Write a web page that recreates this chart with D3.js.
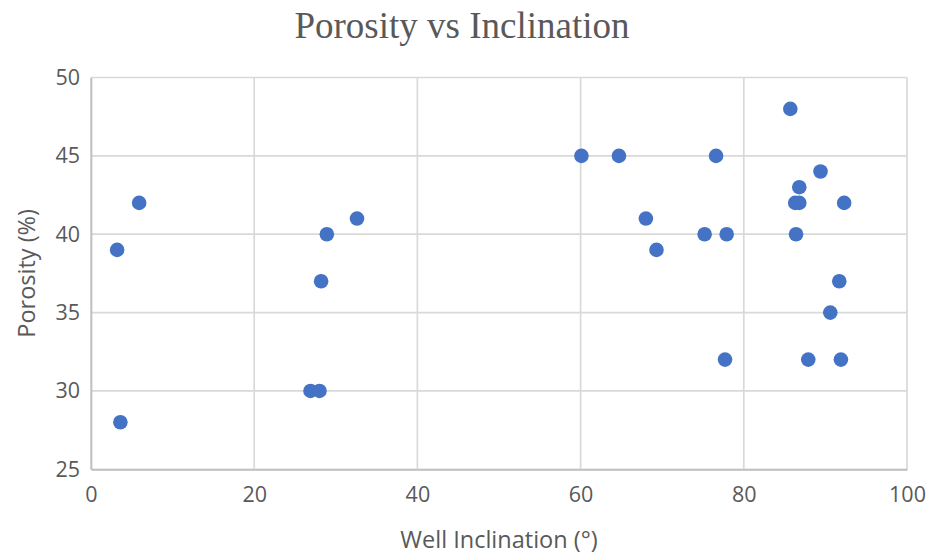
<!DOCTYPE html>
<html>
<head>
<meta charset="utf-8">
<script src="https://cdn.jsdelivr.net/npm/d3@7"></script>
<style>
  html, body { margin: 0; padding: 0; background: #fff; }
  svg { display: block; }
</style>
</head>
<body>
<svg id="chart" width="927" height="554"></svg>
<script>
// Well inclination (degrees) and porosity (%) for each sample
const inclination = [3.2, 5.9, 3.6, 26.9, 28.0, 28.2, 28.9, 32.6,
  60.1, 64.7, 76.6, 85.7, 89.4, 86.8, 86.3, 86.8, 92.3, 68.0,
  75.2, 77.9, 86.4, 69.3, 91.7, 90.6, 77.7, 87.9, 91.9];
const porosity = [39, 42, 28, 30, 30, 37, 40, 41,
  45, 45, 45, 48, 44, 43, 42, 42, 42, 41,
  40, 40, 40, 39, 37, 35, 32, 32, 32];

const xTicks = [0, 20, 40, 60, 80, 100];
const yTicks = [25, 30, 35, 40, 45, 50];

const points = inclination.map((x, i) => ({ x, y: porosity[i] }));

const svg = d3.select("#chart");
const margin = { left: 91, right: 20, top: 77.5, bottom: 84.7 };
const W = 927, H = 554;

const x = d3.scaleLinear().domain([0, 100]).range([margin.left, W - margin.right]);
const y = d3.scaleLinear().domain([25, 50]).range([H - margin.bottom, margin.top]);

const labelFont = "'Open Sans', 'Noto Sans', sans-serif";
const textColor = "#595959";
const gridColor = "#d9d9d9";

// Gridlines
svg.append("g")
  .selectAll("line.v")
  .data(xTicks)
  .join("line")
  .attr("x1", d => x(d)).attr("x2", d => x(d))
  .attr("y1", y(50)).attr("y2", y(25))
  .attr("stroke", gridColor).attr("stroke-width", 1.7);

svg.append("g")
  .selectAll("line.h")
  .data(yTicks)
  .join("line")
  .attr("x1", x(0)).attr("x2", x(100))
  .attr("y1", d => y(d)).attr("y2", d => y(d))
  .attr("stroke", gridColor).attr("stroke-width", 1.7);

// Axes (labels only, lines come from the grid)
const xAxis = svg.append("g")
  .attr("transform", `translate(0,${y(25)})`)
  .call(d3.axisBottom(x).tickValues(xTicks).tickSize(0).tickPadding(17));
const yAxis = svg.append("g")
  .attr("transform", `translate(${x(0)},0)`)
  .call(d3.axisLeft(y).tickValues(yTicks).tickSize(0).tickPadding(11));

[xAxis, yAxis].forEach(g => {
  g.select(".domain").attr("stroke", "#bfbfbf").attr("stroke-width", 1.7);
  g.selectAll("text")
    .attr("fill", textColor)
    .style("font-family", labelFont)
    .style("font-size", "21.5px");
});

// Points
svg.append("g")
  .selectAll("circle")
  .data(points)
  .join("circle")
  .attr("cx", d => x(d.x))
  .attr("cy", d => y(d.y))
  .attr("r", 7.3)
  .attr("fill", "#4472C4");

// Title
svg.append("text")
  .attr("x", 462).attr("y", 38)
  .attr("text-anchor", "middle")
  .attr("fill", textColor)
  .style("font-family", "'Liberation Serif', 'Times New Roman', serif")
  .style("font-size", "37px")
  .text("Porosity vs Inclination");

// Axis titles
svg.append("text")
  .attr("x", 499).attr("y", 548)
  .attr("text-anchor", "middle")
  .attr("fill", textColor)
  .style("font-family", labelFont)
  .style("font-size", "23.5px")
  .text("Well Inclination (°)");

svg.append("text")
  .attr("transform", `translate(35,${(y(25) + y(50)) / 2}) rotate(-90)`)
  .attr("text-anchor", "middle")
  .attr("fill", textColor)
  .style("font-family", labelFont)
  .style("font-size", "23.5px")
  .text("Porosity (%)");
</script>
</body>
</html>
